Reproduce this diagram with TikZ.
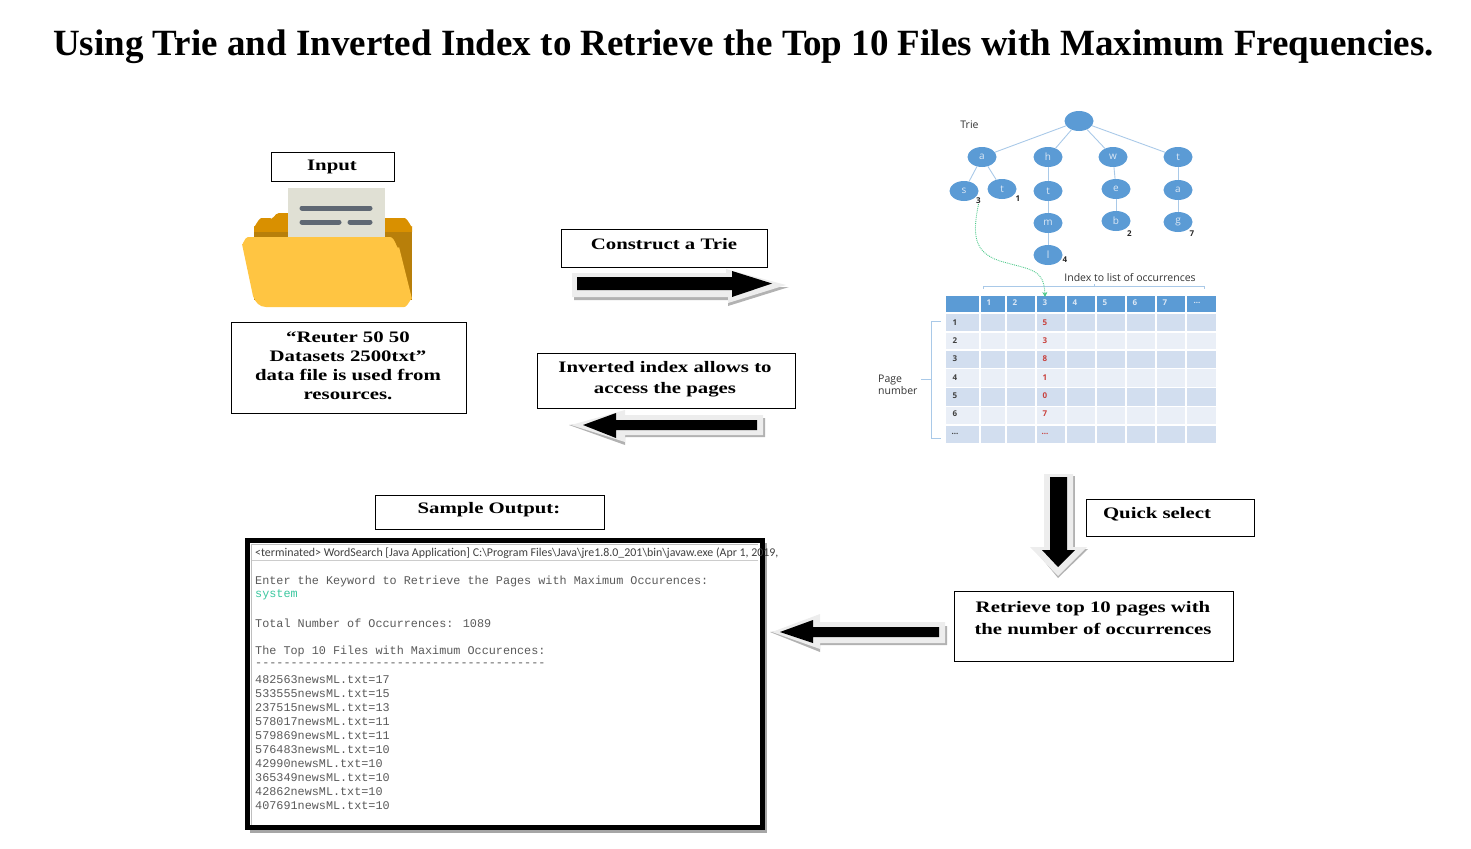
\documentclass[tikz,border=0pt]{standalone}
\usepackage{fontspec}
\setmainfont{Liberation Serif}
\newfontfamily\boxfont[FakeStretch=1.3]{Liberation Serif}
\newfontfamily\diafont{Open Sans}
\newfontfamily\consolefont{Liberation Mono}
\newfontfamily\barfont{Carlito}
\usetikzlibrary{arrows.meta,shapes.geometric}
\definecolor{tblue}{HTML}{5B9BD5}
\definecolor{rowa}{HTML}{D2DEEF}
\definecolor{rowb}{HTML}{EAEFF7}
\definecolor{edgeblue}{HTML}{A9C9E8}
\definecolor{lettercol}{HTML}{DCE8F5}
\definecolor{redval}{HTML}{C8403C}
\definecolor{greenline}{HTML}{4CC88A}
\definecolor{consolegrey}{HTML}{5A5A5A}
\definecolor{sysgreen}{HTML}{3CC8A0}
\definecolor{foldertop}{HTML}{D99000}
\definecolor{folderback}{HTML}{B87F0A}
\definecolor{folderfront}{HTML}{FFC542}
\definecolor{paper}{HTML}{E0E0D4}
\definecolor{docink}{HTML}{5F6873}
\newcommand{\tdots}{...}
\tikzset{
  labelbox/.style={draw=black,line width=0.9pt,fill=white,inner sep=0pt},
  boxtext/.style={font=\boxfont\bfseries\fontsize{16}{21.5}\selectfont,align=center,inner sep=0pt},
  trienode/.style={ellipse,fill=tblue,inner sep=0pt,minimum width=29pt,minimum height=20pt,text=lettercol,font=\diafont\fontsize{10}{12}\selectfont},
  trieedge/.style={draw=edgeblue,line width=0.9pt},
  smallnum/.style={font=\diafont\bfseries\fontsize{8}{10}\selectfont,inner sep=0pt,text=black!85},
  diatext/.style={font=\diafont\fontsize{10.5}{12.5}\selectfont,inner sep=0pt,text=black!80},
  celltext/.style={font=\diafont\bfseries\fontsize{8}{10}\selectfont,inner sep=0pt},
  cellbox/.style={inner sep=0pt,minimum width=0pt},
  arrowshadow/.style={fill=black!30,draw=none},
  arrowglow/.style={fill=black!7,draw=none},
  arrowcore/.style={fill=black,draw=none},
  consoleline/.style={anchor=west,inner sep=0pt,text=consolegrey,font=\consolefont\fontsize{11.8}{14}\selectfont},
  docline/.style={line width=5pt,line cap=round,draw=docink},
  bracket/.style={draw=edgeblue,line width=0.9pt}
}
\begin{document}
\begin{tikzpicture}[x=1pt,y=-1pt]
\useasboundingbox (0,0) rectangle (1471,848);

% title
\node[inner sep=0pt,font=\bfseries\fontsize{37}{40}\selectfont] (title) at (743.5,47) {Using Trie and Inverted Index to Retrieve the Top 10 Files with Maximum Frequencies.};

% folder
\fill[foldertop] (254,232) -- (254,226) to[out=-90,in=180] (262,218) -- (270,218) to[out=-60,in=180] (279,213) -- (292,213) -- (292,218) -- (404,218) to[out=0,in=-90] (412,226) -- (412,232) -- cycle;
\fill[folderback] (254,232) rectangle (412,300);
\fill[paper] (288,188) rectangle (385,240);
\draw[docline] (302,208) -- (370,208);
\draw[docline] (302,222) -- (339,222);
\draw[docline] (350,222) -- (370,222);
\fill[folderfront] (248,237) -- (390,237) to[out=0,in=-110] (399,247) -- (412,299) to[out=90,in=0] (404,307) -- (266,307) to[out=180,in=-70] (253,296) -- (242,244) to[out=-90,in=180] (248,237) -- cycle;

% labelled boxes
\node[labelbox,minimum width=123pt,minimum height=29pt] (inputbox) at (332.5,166.5) {};
\node[boxtext] (inputtext) at (332,167) {Input};
\node[labelbox,minimum width=235pt,minimum height=91pt] (reuterbox) at (348.5,367.5) {};
\node[boxtext,font=\boxfont\bfseries\fontsize{16}{19}\selectfont] (reutertext) at (348,366) {“Reuter 50 50\\Datasets 2500txt”\\data file is used from\\resources.};
\node[labelbox,minimum width=206pt,minimum height=38pt] (trieboxa) at (664,248) {};
\node[boxtext] (trietexta) at (664,244) {Construct a Trie};
\node[labelbox,minimum width=258pt,minimum height=55pt] (invbox) at (666,380.5) {};
\node[boxtext] (invtext) at (665,379) {Inverted index allows to\\access the pages};
\node[labelbox,minimum width=229pt,minimum height=34pt] (samplebox) at (489.5,512) {};
\node[boxtext] (sampletext) at (489,510) {Sample Output:};
\node[labelbox,minimum width=168pt,minimum height=37pt] (quickbox) at (1170,517.5) {};
\node[boxtext] (quicktext) at (1157,514) {Quick select};
\node[labelbox,minimum width=279pt,minimum height=70pt] (retrbox) at (1093.5,626) {};
\node[boxtext] (retrtext) at (1093,618) {Retrieve top 10 pages with\\the number of occurrences};

% block arrows
\fill[arrowshadow] (574,280) -- (574,300) -- (728,300) -- (728,306) -- (789,287) -- (700,287) -- cycle;
\fill[arrowglow] (572,273) -- (726,273) -- (726,269) -- (786,285) -- (728,303) -- (728,297) -- (572,297) -- cycle;
\fill[arrowcore] (577,277) -- (732,277) -- (732,271) -- (772,283.5) -- (732,297) -- (732,290) -- (577,290) -- cycle;

\fill[arrowshadow] (569,425) -- (625,445) -- (625,437) -- (765,437) -- (765,418) -- (640,418) -- cycle;
\fill[arrowglow] (571,425) -- (625,410) -- (625,415) -- (763,415) -- (763,435) -- (625,435) -- (625,442) -- cycle;
\fill[arrowcore] (583,425) -- (616,413) -- (616,420) -- (757,420) -- (757,430) -- (616,430) -- (616,438) -- cycle;

\fill[arrowshadow] (1034,549) -- (1058,578) -- (1088,549) -- cycle;
\fill[arrowshadow] (1072,476) rectangle (1075,550);
\fill[arrowglow] (1044,474) -- (1073,474) -- (1073,547) -- (1087,547) -- (1058,576) -- (1030,547) -- (1044,547) -- cycle;
\fill[arrowcore] (1050,477) -- (1067,477) -- (1067,550) -- (1075,550) -- (1058,567) -- (1042,550) -- (1050,550) -- cycle;

\fill[arrowshadow] (770,632) -- (820,652) -- (820,645) -- (947,645) -- (947,626) -- (830,626) -- cycle;
\fill[arrowglow] (772,632) -- (820,614) -- (820,622) -- (945,622) -- (945,643) -- (820,643) -- (820,649) -- cycle;
\fill[arrowcore] (780,632) -- (813,620) -- (813,627) -- (939,627) -- (939,637) -- (813,637) -- (813,643) -- cycle;

% trie
\node[diatext] (trielabel) at (969.5,125) {Trie};
\node[trienode] (root) at (1079,121) {};
\node[trienode] (na) at (982,157) {a};
\node[trienode] (nh) at (1048,157) {h};
\node[trienode] (nw) at (1113,157) {w};
\node[trienode] (nt) at (1178,157) {t};
\node[trienode] (ns) at (964,191) {s};
\node[trienode] (nt1) at (1002,189) {t};
\node[trienode] (nt2) at (1048,191) {t};
\node[trienode] (ne) at (1116,189) {e};
\node[trienode] (na2) at (1178,190) {a};
\node[trienode] (nm) at (1048,223) {m};
\node[trienode] (nb) at (1116,221) {b};
\node[trienode] (ng) at (1178,222) {g};
\node[trienode] (nl) at (1048,255) {l};
\foreach \p/\c in {root/na,root/nh,root/nw,root/nt,na/ns,na/nt1,nh/nt2,nt2/nm,nm/nl,nw/ne,ne/nb,nt/na2,na2/ng}
  \draw[trieedge] (\p) -- (\c);
\node[smallnum] (cnt3) at (978.5,201) {3};
\node[smallnum] (cnt1) at (1018,199) {1};
\node[smallnum] (cnt2) at (1129.5,234) {2};
\node[smallnum] (cnt7) at (1192,234) {7};
\node[smallnum] (cnt4) at (1065,260) {4};

% table
\foreach \xa/\xb/\n in {946/979/0,981/1005/1,1007/1035/2,1037/1065/3,1067/1095/4,1097/1125/5,1127/1155/6,1157/1185/7,1187/1216/8}{
  \pgfmathsetmacro{\cw}{\xb-\xa}
  \pgfmathsetmacro{\cx}{(\xa+\xb)/2}
  \node[cellbox,fill=tblue,minimum width=\cw pt,minimum height=16pt] (h\n) at (\cx,304) {};
  \foreach \ya/\yb/\r/\col in {314/331/1/rowa,333/349/2/rowb,351/368/3/rowa,369/387/4/rowb,388/406/5/rowa,407/424/6/rowb,426/443/7/rowa}{
    \pgfmathsetmacro{\ch}{\yb-\ya}
    \pgfmathsetmacro{\cy}{(\ya+\yb)/2}
    \node[cellbox,fill=\col,minimum width=\cw pt,minimum height=\ch pt] (c\r-\n) at (\cx,\cy) {};
  }
}
\foreach \x/\t/\i in {989/1/1,1015/2/2,1045/3/3,1075/4/4,1105/5/5,1135/6/6,1165/7/7,1197/\tdots/8}
  \node[celltext,text=lettercol] (hd\i) at (\x,303) {\t};
\foreach \y/\t/\v/\i in {323/1/5/1,341/2/3/2,359/3/8/3,378/4/1/4,396/5/0/5,414/6/7/6,434/\tdots/\tdots/7}{
  \node[celltext,text=black!75] (rw\i) at (955,\y) {\t};
  \node[celltext,text=redval] (vl\i) at (1045,\y) {\v};
}
\node[diatext] (idxlabel) at (1130,278) {Index to list of occurrences};
\coordinate (topL) at (983,289);
\coordinate (topR) at (1204,289);
\draw[bracket] (topL) -- (983,286.5) -- (1204,286.5) -- (topR);
\draw[bracket] (1094,286.5) -- (1094,283.5);
\node[diatext,align=left,anchor=west] (pagelabel) at (878,385) {Page\\number};
\coordinate (brT) at (941,321);
\coordinate (brB) at (941,438);
\coordinate (brM) at (921,379);
\draw[bracket] (brT) -- (931,321) -- (931,438) -- (brB);
\draw[bracket] (brM) -- (931,379);
\coordinate (gend) at (1045,297);
\draw[greenline,line width=0.9pt,densely dotted,-{Stealth[length=5pt,width=5pt]}] (cnt3.south) .. controls (973,232) and (972,252) .. (1000,261) .. controls (1030,270) and (1044,268) .. (gend);

% console window
\fill[black!35] (250,543) rectangle (767,833);
\node[draw=black,line width=5pt,fill=white,minimum width=515pt,minimum height=287pt,inner sep=0pt] (console) at (504.5,683.5) {};
\draw[black!25,line width=0.8pt] (252,544) -- (758,544);
\draw[black!25,line width=0.8pt] (251.5,544) -- (251.5,825);
\draw[black!20,line width=0.8pt] (252,560.5) -- (758,560.5);
\node[anchor=west,inner sep=0pt,text=black!75,font=\barfont\fontsize{11.9}{14}\selectfont] (bartext) at (255,553) {<terminated> WordSearch [Java Application] C:\textbackslash Program Files\textbackslash Java\textbackslash jre1.8.0\_201\textbackslash bin\textbackslash javaw.exe (Apr 1, 2019,};
\node[consoleline] (l0) at (255,581) {Enter the Keyword to Retrieve the Pages with Maximum Occurences:};
\node[consoleline,text=sysgreen] (l1) at (255,595) {system};
\node[consoleline] (l2) at (255,623) {Total Number of Occurrences: 1089};
\node[consoleline] (l3) at (255,651) {The Top 10 Files with Maximum Occurences:};
\node[consoleline] (l4) at (255,665) {-{}-{}-{}-{}-{}-{}-{}-{}-{}-{}-{}-{}-{}-{}-{}-{}-{}-{}-{}-{}-{}-{}-{}-{}-{}-{}-{}-{}-{}-{}-{}-{}-{}-{}-{}-{}-{}-{}-{}-{}-};
\foreach \y/\t/\i in {680/482563newsML.txt=17/a,694/533555newsML.txt=15/b,708/237515newsML.txt=13/c,722/578017newsML.txt=11/d,736/579869newsML.txt=11/e,750/576483newsML.txt=10/f,764/42990newsML.txt=10/g,778/365349newsML.txt=10/h,792/42862newsML.txt=10/i,806/407691newsML.txt=10/j}
  \node[consoleline] (r\i) at (255,\y) {\t};
\end{tikzpicture}
\end{document}
